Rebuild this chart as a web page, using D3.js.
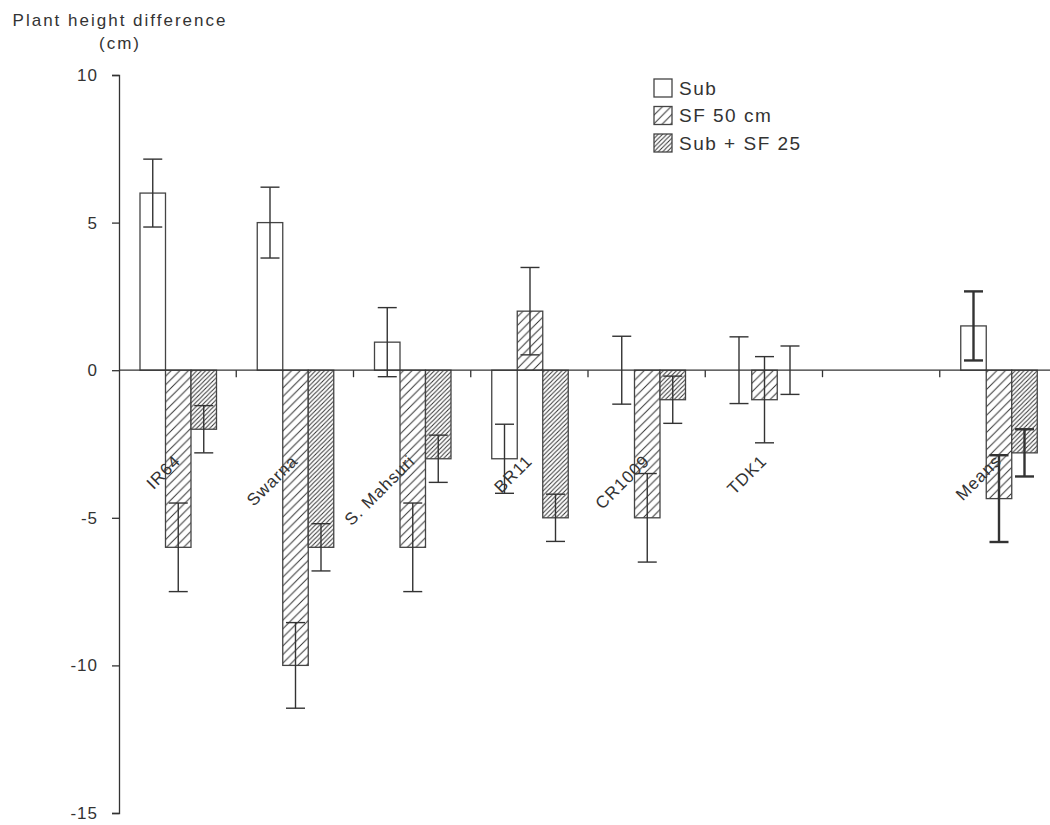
<!DOCTYPE html>
<html>
<head>
<meta charset="utf-8">
<script src="https://cdn.jsdelivr.net/npm/d3@7"></script>
<style>
  body { margin: 0; background: #fff; }
  text { font-family: "Liberation Sans", Arial, sans-serif; fill: #333; }
</style>
</head>
<body>
<div id="chart"></div>
<script>
// data
var categories = ["IR64", "Swarna", "S. Mahsuri", "BR11", "CR1009", "TDK1", "", "Means"];
var seriesNames = ["Sub", "SF 50 cm", "Sub + SF 25"];

var subValues     = [6.0, 5.0, 0.95, -3.0, 0, 0, null, 1.5];
var subErrors     = [1.15, 1.2, 1.17, 1.17, 1.15, 1.13, null, 1.17];
var sf50Values    = [-6.0, -10.0, -6.0, 2.0, -5.0, -1.0, null, -4.35];
var sf50Errors    = [1.5, 1.45, 1.5, 1.48, 1.5, 1.46, null, 1.47];
var subSf25Values = [-2.0, -6.0, -3.0, -5.0, -1.0, 0, null, -2.8];
var subSf25Errors = [0.8, 0.8, 0.8, 0.8, 0.8, 0.82, null, 0.8];

var yTicks = [10, 5, 0, -5, -10, -15];

var width = 1050, height = 825;
var plotLeft = 119, plotRight = 1057, plotTop = 75, plotBottom = 813;
var ink = "#333";

var svg = d3.select("#chart").append("svg")
  .attr("width", width)
  .attr("height", height);

// hatch patterns
var defs = svg.append("defs");
function hatch(id, s) {
  var p = defs.append("pattern")
    .attr("id", id)
    .attr("patternUnits", "userSpaceOnUse")
    .attr("width", s).attr("height", s);
  p.append("rect").attr("width", s).attr("height", s).attr("fill", "#fff");
  p.append("path")
    .attr("d", "M0," + s + "L" + s + ",0" +
               "M" + (-s / 4) + "," + (s / 4) + "L" + (s / 4) + "," + (-s / 4) +
               "M" + (3 * s / 4) + "," + (5 * s / 4) + "L" + (5 * s / 4) + "," + (3 * s / 4))
    .attr("stroke", ink)
    .attr("stroke-width", 1);
}
hatch("h50", 8.6);
hatch("h25", 4.4);

var fills = ["#fff", "url(#h50)", "url(#h25)"];

var x = d3.scaleBand().domain(categories.map(function(d, i) { return i; }))
  .range([plotLeft, plotRight]);
var xs = d3.scaleBand().domain(seriesNames).range([21, 21 + 3 * 25.5]);
var y = d3.scaleLinear().domain([-15, 10]).range([plotBottom, plotTop]);

var series = [
  {name: seriesNames[0], values: subValues, errors: subErrors},
  {name: seriesNames[1], values: sf50Values, errors: sf50Errors},
  {name: seriesNames[2], values: subSf25Values, errors: subSf25Errors}
];

var rows = [];
series.forEach(function(s, si) {
  s.values.forEach(function(v, i) {
    if (v === null) return;
    rows.push({cat: i, si: si, name: s.name, value: v, err: s.errors[i]});
  });
});

// bars
svg.append("g").selectAll("rect")
  .data(rows.filter(function(d) { return d.value !== 0; }))
  .enter().append("rect")
  .attr("x", function(d) { return x(d.cat) + xs(d.name); })
  .attr("width", xs.bandwidth())
  .attr("y", function(d) { return y(Math.max(0, d.value)); })
  .attr("height", function(d) { return Math.abs(y(d.value) - y(0)); })
  .attr("fill", function(d) { return fills[d.si]; })
  .attr("stroke", "#444")
  .attr("stroke-width", 1.3);

// y axis
var yAxis = svg.append("g")
  .attr("transform", "translate(" + plotLeft + ",0)")
  .call(d3.axisLeft(y).tickValues(yTicks).tickFormat(String).tickSize(7).tickPadding(14));
yAxis.select(".domain").attr("stroke", ink).attr("stroke-width", 1.3);
yAxis.selectAll(".tick line").attr("stroke", ink).attr("stroke-width", 1.3);
yAxis.selectAll("text")
  .style("font-size", "17px")
  .style("letter-spacing", "1px")
  .style("font-family", "'Liberation Sans', Arial, sans-serif")
  .attr("fill", ink);

// x axis at zero
var xAxisG = svg.append("g").attr("transform", "translate(0," + y(0) + ")");
xAxisG.append("line")
  .attr("x1", plotLeft).attr("x2", width)
  .attr("stroke", ink).attr("stroke-width", 1.3);
xAxisG.selectAll(".sep")
  .data(categories.slice(1).map(function(d, i) { return i + 1; }))
  .enter().append("line")
  .attr("x1", function(d) { return x(d); })
  .attr("x2", function(d) { return x(d); })
  .attr("y1", 0).attr("y2", 7)
  .attr("stroke", ink).attr("stroke-width", 1.3);

// error bars
var eb = svg.append("g").selectAll("g")
  .data(rows)
  .enter().append("g")
  .attr("stroke", ink)
  .attr("stroke-width", function(d) { return categories[d.cat] === "Means" ? 2.4 : 1.4; });
function cx(d) { return x(d.cat) + xs(d.name) + xs.bandwidth() / 2; }
eb.append("line")
  .attr("x1", cx).attr("x2", cx)
  .attr("y1", function(d) { return y(d.value + d.err); })
  .attr("y2", function(d) { return y(d.value - d.err); });
eb.selectAll(".cap")
  .data(function(d) { return [d.value + d.err, d.value - d.err].map(function(v) { return {d: d, v: v}; }); })
  .enter().append("line")
  .attr("x1", function(c) { return cx(c.d) - 9.5; })
  .attr("x2", function(c) { return cx(c.d) + 9.5; })
  .attr("y1", function(c) { return y(c.v); })
  .attr("y2", function(c) { return y(c.v); });

// category labels, rotated
svg.append("g").selectAll("text")
  .data(categories)
  .enter().append("text")
  .attr("transform", function(d, i) {
    return "translate(" + (x(i) + x.bandwidth() / 2 + 4) + ",462) rotate(-45)";
  })
  .attr("text-anchor", "end")
  .style("font-size", "17px")
  .style("letter-spacing", "1px")
  .text(function(d) { return d; });

// y title
svg.append("text")
  .attr("x", 120).attr("y", 26)
  .attr("text-anchor", "middle")
  .style("font-size", "17px")
  .style("letter-spacing", "2px")
  .text("Plant height difference");
svg.append("text")
  .attr("x", 120).attr("y", 49)
  .attr("text-anchor", "middle")
  .style("font-size", "17px")
  .style("letter-spacing", "2px")
  .text("(cm)");

// legend
var legend = svg.append("g").selectAll("g")
  .data(seriesNames)
  .enter().append("g")
  .attr("transform", function(d, i) { return "translate(654," + (79 + i * 27.5) + ")"; });
legend.append("rect")
  .attr("width", 18).attr("height", 18)
  .attr("fill", function(d, i) { return fills[i]; })
  .attr("stroke", "#444")
  .attr("stroke-width", 1.3);
legend.append("text")
  .attr("x", 25).attr("y", 15.5)
  .style("font-size", "19px")
  .style("letter-spacing", "1.5px")
  .text(function(d) { return d; });
</script>
</body>
</html>
